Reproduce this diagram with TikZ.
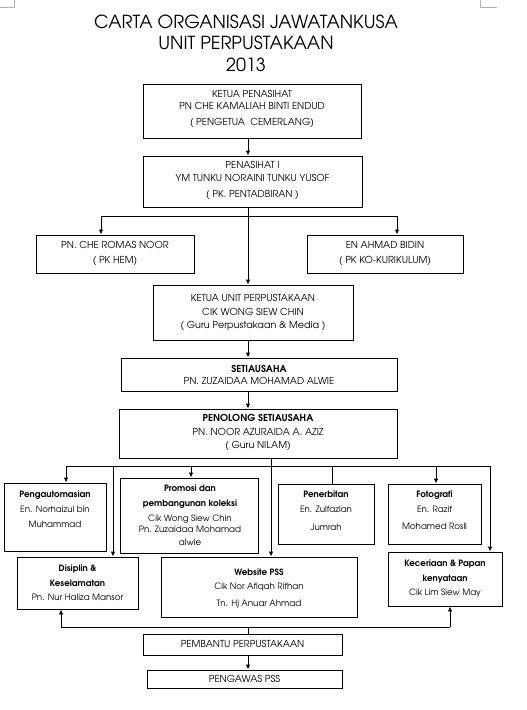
\documentclass[tikz,border=0pt]{standalone}
\usepackage{fontspec}
\setmainfont{TeX Gyre Adventor}
\usetikzlibrary{arrows.meta}
\begin{document}
\begin{tikzpicture}[x=1pt,y=-1pt,
  box/.style={draw, line width=0.9pt, inner sep=0pt},
  txt/.style={align=center, inner sep=0pt, font=\fontsize{9.6}{15}\selectfont},
  stxt/.style={align=center, inner sep=0pt, font=\fontsize{8.7}{15}\selectfont},
  ttl/.style={inner sep=0pt, font=\fontsize{18}{21}\selectfont},
  arr/.style={-{Latex[length=5pt,width=4.5pt]}, line width=0.9pt},
  ln/.style={line width=0.9pt},
  cornermark/.style={draw=gray!60, line width=0.6pt}]
\useasboundingbox[fill=white] (0,0) rectangle (527,710);
% page corner marks
\draw[cornermark] (0,7) -- (14,7) -- (14,0);
\draw[cornermark] (497,7) -- (480,7) -- (480,0);
% title
\node[ttl] (t1) at (246,22) {CARTA ORGANISASI JAWATANKUSA};
\node[ttl] (t2) at (246,43) {UNIT PERPUSTAKAAN};
\node[ttl] (t3) at (246,65) {2013};
% boxes
\node[box, minimum width=218pt, minimum height=54pt] (b1) at (252,111) {};
\node[box, minimum width=219pt, minimum height=51pt] (b2) at (252.5,181.5) {};
\node[box, minimum width=158pt, minimum height=38pt] (lb) at (115,254) {};
\node[box, minimum width=156pt, minimum height=38pt] (rb) at (385,254) {};
\node[box, minimum width=200pt, minimum height=55pt] (ku) at (253,312.5) {};
\node[box, minimum width=276pt, minimum height=33pt] (se) at (259,374.5) {};
\node[box, minimum width=278pt, minimum height=49pt] (pe) at (258,433.5) {};
\node[box, minimum width=102pt, minimum height=68pt] (pa) at (55,517) {};
\node[box, minimum width=138pt, minimum height=75pt] (pr) at (189,515.5) {};
\node[box, minimum width=96pt, minimum height=60pt] (pn) at (326,514) {};
\node[box, minimum width=93pt, minimum height=60pt] (fo) at (434.5,514) {};
\node[box, minimum width=121pt, minimum height=52pt] (ds) at (77.5,583) {};
\node[box, minimum width=196pt, minimum height=60pt] (wb) at (259,587) {};
\node[box, minimum width=114pt, minimum height=54pt] (kc) at (445,579) {};
\node[box, minimum width=199pt, minimum height=21pt] (pb) at (242.5,644.5) {};
\node[box, minimum width=195pt, minimum height=18pt] (pg) at (244.5,679) {};
% texts
\node[txt] (b1t) at (252,109) {KETUA PENASIHAT\\[-3pt]PN CHE KAMALIAH BINTI ENDUD\\[1pt]( PENGETUA\ \ CEMERLANG)};
\node[txt] (b2t) at (252.5,180.5) {PENASIHAT I\\[-2pt]YM TUNKU NORAINI TUNKU YUSOF\\[1pt]( PK. PENTADBIRAN )};
\node[txt] (lbt) at (115,253.5) {PN. CHE ROMAS NOOR\\( PK HEM)};
\node[txt] (rbt) at (385,253.5) {EN AHMAD BIDIN\\( PK KO-KURIKULUM)};
\node[txt] (kut) at (253,312.5) {KETUA UNIT PERPUSTAKAAN\\[-1pt]CIK WONG SIEW CHIN\\[-2pt]( Guru Perpustakaan \& Media )};
\node[txt] (set) at (259,375) {\textbf{SETIAUSAHA}\\[-3pt]PN. ZUZAIDAA MOHAMAD ALWIE};
\node[txt] (pet) at (258,432.5) {\textbf{PENOLONG SETIAUSAHA}\\[-1pt]PN. NOOR AZURAIDA A. AZIZ\\[-2pt]( Guru NILAM)};
\node[stxt] (pat) at (55,509) {\textbf{Pengautomasian}\\En. Norhaizul bin\\Muhammad};
\node[stxt] (prt) at (190,515) {\textbf{Promosi dan}\\\textbf{pembangunan koleksi}\\Cik Wong Siew Chin\\[-4pt]Pn. Zuzaidaa Mohamad\\[-2pt]alwie};
\node[stxt] (pnt) at (326,510.5) {\textbf{Penerbitan}\\En. Zulfazlan\\[3pt]Jumrah};
\node[stxt] (fot) at (434.5,510) {\textbf{Fotografi}\\En. Razif\\[2pt]Mohamed Rosli};
\node[stxt] (dst) at (77.5,582.5) {\textbf{Disiplin \&}\\\textbf{Keselamatan}\\[-1pt]Pn. Nur Haliza Mansor};
\node[stxt] (wbt) at (259,588.5) {\textbf{Website PSS}\\[-1pt]Cik Nor Afiqah Rifhan\\[2pt]Tn. Hj Anuar Ahmad};
\node[stxt] (kct) at (445,578.5) {\textbf{Keceriaan \& Papan}\\\textbf{kenyataan}\\[-1pt]Cik Lim Siew May};
\node[txt] (pbt) at (242.5,643.5) {PEMBANTU PERPUSTAKAAN};
\node[txt] (pgt) at (244.5,679) {PENGAWAS PSS};
% axis coordinates
\coordinate (ax) at (248,0);
\coordinate (h1) at (101,216);
\coordinate (h2) at (397,216);
\coordinate (d1) at (66,466);
\coordinate (d2) at (490,466);
\coordinate (xd) at (113,0);
\coordinate (xp) at (191,0);
\coordinate (xw) at (271,0);
\coordinate (xn) at (332,0);
\coordinate (xf) at (436,0);
\coordinate (e1) at (61,627);
\coordinate (e2) at (450,627);
% connectors
\draw[arr] (b1.south -| ax) -- (b2.north -| ax);
\draw[arr] (b2.south -| ax) -- (ku.north -| ax);
\draw[ln] (h1) -- (h2);
\draw[arr] (h1) -- (h1 |- lb.north);
\draw[arr] (h2) -- (h2 |- rb.north);
\draw[arr] (ku.south -| ax) -- (se.north -| ax);
\draw[arr] (se.south -| ax) -- (pe.north -| ax);
\draw[ln] (d1) -- (d2);
\draw[arr] (d1) -- (d1 |- pa.north);
\draw[arr] (d1 -| xd) -- (ds.north -| xd);
\draw[arr] (d1 -| xp) -- (pr.north -| xp);
\draw[arr] (pe.south -| xw) -- (wb.north -| xw);
\draw[ln] (d1 -| xn) -- (pn.north -| xn);
\draw[arr] (d1 -| xf) -- (fo.north -| xf);
\draw[arr] (d2) -- (d2 |- kc.north);
\draw[ln] (e1) -- (e2);
\draw[ln] (pb.north -| ax) -- (e1 -| ax);
\draw[arr] (e1) -- (e1 |- ds.south);
\draw[arr] (e2) -- (e2 |- kc.south);
\draw[arr] (pb.south -| ax) -- (pg.north -| ax);
\end{tikzpicture}
\end{document}
